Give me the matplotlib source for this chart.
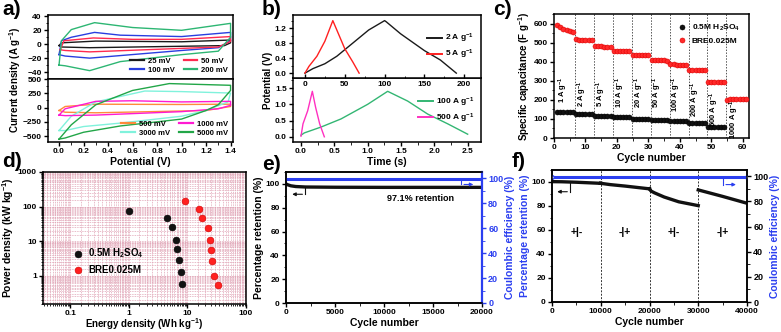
import numpy as np
import matplotlib
matplotlib.use('Agg')
import matplotlib.pyplot as plt
from matplotlib.ticker import AutoMinorLocator, MultipleLocator, LogLocator, NullFormatter

plt.rcParams['font.family'] = ['Liberation Sans', 'DejaVu Sans']
plt.rcParams['font.weight'] = 'bold'
plt.rcParams['axes.labelweight'] = 'bold'
plt.rcParams['mathtext.fontset'] = 'custom'
plt.rcParams['mathtext.rm'] = 'Liberation Sans:bold'
plt.rcParams['mathtext.it'] = 'Liberation Sans:bold'
plt.rcParams['mathtext.bf'] = 'Liberation Sans:bold'
plt.rcParams['font.size'] = 6
plt.rcParams['axes.linewidth'] = 1.1
plt.rcParams['xtick.major.size'] = 3
plt.rcParams['ytick.major.size'] = 3
plt.rcParams['xtick.minor.size'] = 1.8
plt.rcParams['ytick.minor.size'] = 1.8
plt.rcParams['xtick.major.width'] = 1
plt.rcParams['ytick.major.width'] = 1
plt.rcParams['xtick.major.pad'] = 1.5
plt.rcParams['ytick.major.pad'] = 1.5
plt.rcParams['axes.labelpad'] = 1

# ---------------- data ----------------
# a) CV loops (potential V, current density A/g), low scan rates
cv_25 = [(0, -2), (0.02, 2), (0.3, 4.5), (1.0, 3.5), (1.4, 6), (1.4, 2), (1.35, -2), (0.25, -5), (0.02, -4), (0, -2)]
cv_50 = [(0.01, -8), (0.04, 5), (0.28, 9), (0.6, 7), (1.0, 7), (1.4, 11), (1.4, 4), (1.3, -4), (0.25, -11), (0.05, -9), (0.01, -8)]
cv_100 = [(0, -15), (0.02, 5), (0.1, 10), (0.29, 17), (0.5, 13), (1.0, 11), (1.4, 17), (1.4, 5), (1.3, -5), (1.0, -9), (0.25, -20), (0.05, -17), (0, -15)]
cv_200 = [(0, -30), (0.02, 5), (0.1, 21), (0.29, 31), (0.6, 24), (1.0, 20), (1.4, 30), (1.4, 10), (1.3, -10), (1.0, -15), (0.5, -25), (0.25, -38), (0.05, -31), (0, -30)]
# a) high scan rates
cv_500 = [(0, -50), (0.05, 20), (0.3, 60), (1.0, 55), (1.4, 60), (1.4, 20), (1.2, -50), (0.3, -90), (0.05, -80), (0, -50)]
cv_1000 = [(0, -130), (0.05, -20), (0.3, 110), (0.6, 120), (1.0, 100), (1.4, 110), (1.4, 40), (1.3, -20), (1.0, -70), (0.3, -130), (0.05, -140), (0, -130)]
cv_3000 = [(0, -400), (0.1, -150), (0.3, 100), (0.7, 290), (1.0, 280), (1.4, 255), (1.38, 100), (1.2, -50), (1.0, -150), (0.5, -270), (0.2, -330), (0.05, -400), (0, -400)]
cv_5000 = [(0, -550), (0.1, -300), (0.3, 50), (0.6, 300), (0.9, 420), (1.4, 390), (1.4, 300), (1.3, 50), (1.2, -50), (1.0, -200), (0.5, -320), (0.2, -430), (0.05, -530), (0, -550)]

# b) galvanostatic charge/discharge (time s, potential V)
gcd_2 = [(0, 0), (10, 0.12), (25, 0.25), (40, 0.45), (60, 0.8), (80, 1.15), (100, 1.4), (102, 1.37), (120, 1.05), (150, 0.6), (170, 0.35), (190, 0)]
gcd_5 = [(0, 0), (5, 0.18), (15, 0.45), (25, 0.85), (35, 1.4), (40, 1.15), (50, 0.65), (60, 0.3), (68, 0)]
gcd_100 = [(0, 0.05), (0.05, 0.12), (0.3, 0.3), (0.6, 0.55), (1.0, 1.0), (1.3, 1.4), (1.35, 1.35), (1.6, 1.1), (1.9, 0.7), (2.2, 0.4), (2.5, 0.08)]
gcd_500 = [(0, 0.02), (0.03, 0.4), (0.1, 0.8), (0.17, 1.4), (0.22, 0.9), (0.28, 0.4), (0.35, 0)]

# c) rate capability
cyc_red = list(range(1, 62))
cap_red = [590, 582, 573, 565, 560, 556,
           517, 516, 515, 514, 513, 512,
           481, 480, 480, 479, 479, 478,
           455, 455, 455, 454, 454, 454,
           435, 435, 434, 434, 434, 433,
           408, 408, 407, 407, 407, 406,
           386, 386, 385, 385, 385, 384,
           356, 356, 356, 355, 355, 355,
           296, 296, 296, 295, 295, 295,
           200, 203, 205, 206, 206, 207, 207]
cyc_black = list(range(1, 55))
cap_black = [136, 135, 135, 135, 134, 134,
             127, 127, 126, 126, 126, 126,
             117, 117, 116, 116, 116, 116,
             109, 109, 108, 108, 108, 108,
             102, 102, 101, 101, 101, 101,
             96, 96, 96, 95, 95, 95,
             88, 88, 87, 87, 87, 87,
             80, 80, 79, 79, 79, 79,
             59, 59, 58, 58, 58, 58]
rate_bounds = [6.8, 12.8, 18.8, 24.8, 30.8, 36.8, 42.8, 48.8, 54.8]
rate_labels = ['1', '2', '5', '10', '20', '50', '100', '200', '500', '1000']
rate_lab_x = [3, 9, 15, 21, 27, 33, 39, 45, 51, 57.5]
rate_lab_y = [255, 235, 235, 240, 237, 240, 228, 202, 150, 97]

# d) Ragone plot
e_h2so4 = [1.0, 4.5, 5.5, 6.4, 6.7, 7.3, 7.9, 8.2]
p_h2so4 = [76, 48, 26, 11, 5.8, 2.9, 1.26, 0.56]
e_bre = [8.9, 16, 17.5, 22, 24, 25, 26, 28, 33]
p_bre = [140, 87, 45, 24.5, 10.5, 5.4, 2.6, 1.0, 0.52]

# e) cycling stability
e_cyc = [0, 200, 500, 1000, 2000, 5000, 10000, 15000, 20000]
e_ret = [100, 99.2, 98.4, 97.8, 97.4, 97.2, 97.1, 97.1, 97.1]
e_ce_cyc = [0, 20000]
e_ce = [99.3, 99.3]

# f) polarity switching
f_cyc = [0, 2000, 5000, 10000, np.nan, 10000, 12000, 15000, 20000, np.nan,
         20000, 20300, 21000, 23000, 26000, 30000, np.nan, 30000, 35000, 40000]
f_ret = [100.3, 100.2, 99.8, 98.9, np.nan, 98.9, 97.8, 96.6, 94.3, np.nan,
         94.3, 92.5, 91, 87.5, 83.5, 80.3, np.nan, 93.4, 88, 82.3]
f_ce_cyc = [0, 40000]
f_ce = [99.5, 99.5]
f_bounds = [10000, 20000, 30000]
f_modes = ['+|-', '-|+', '+|-', '-|+']
f_mode_x = [5000, 15000, 25000, 35000]

BLUE = '#2b3ff0'
LAB = 7.5

W, H = 781, 332
fig = plt.figure(figsize=(W / 100, H / 100), dpi=100)


def ax_at(l, t, r, b):
    return fig.add_axes([l / W, 1 - b / H, (r - l) / W, (b - t) / H])


def xy(pts):
    a = np.array(pts, dtype=float)
    return a[:, 0], a[:, 1]


def panel(x, y, s):
    fig.text(x / W, 1 - y / H, s, fontsize=15, fontweight='bold', va='top', ha='left')


# ---------------- a) ----------------
axa1 = ax_at(48, 15, 233, 79)
axa2 = ax_at(48, 79, 233, 142)
for pts, c, lab in [(cv_25, '#1a1a1a', '25 mV'), (cv_100, '#2a3ee0', '100 mV'),
                    (cv_50, '#ff2a50', '50 mV'), (cv_200, '#2db673', '200 mV')]:
    axa1.plot(*xy(pts), color=c, lw=1.0, label=lab)
for pts, c, lab in [(cv_500, '#ff8a3a', '500 mV'), (cv_3000, '#80f2dc', '3000 mV'),
                    (cv_1000, '#ff1ad2', '1000 mV'), (cv_5000, '#22a648', '5000 mV')]:
    axa2.plot(*xy(pts), color=c, lw=1.0, label=lab)
for ax in (axa1, axa2):
    ax.set_xlim(-0.09, 1.42)
    ax.xaxis.set_major_locator(MultipleLocator(0.2))
    ax.xaxis.set_minor_locator(MultipleLocator(0.1))
    ax.yaxis.set_minor_locator(AutoMinorLocator(2))
    leg = ax.legend(loc='lower right', ncol=2, frameon=False, fontsize=5.5, handlelength=1.8,
                    columnspacing=1.2, labelspacing=0.25, borderpad=0.15, handletextpad=0.5)
    for ln in leg.get_lines():
        ln.set_linewidth(1.6)
axa1.set_ylim(-50, 42)
axa1.set_yticks([-40, -20, 0, 20, 40])
axa1.tick_params(axis='x', labelbottom=False, length=0, which='both')
axa2.set_ylim(-600, 500)
axa2.set_yticks([-500, -250, 0, 250, 500])
axa2.set_xlabel('Potential (V)', fontsize=LAB)
fig.text(15 / W, 1 - 80 / H, 'Current density (A g$^{-1}$)', rotation=90, fontsize=7,
         fontweight='bold', va='center', ha='center')

# ---------------- b) ----------------
axb1 = ax_at(293, 15, 481, 78)
axb2 = ax_at(293, 78, 481, 142)
axb1.set_zorder(3)
axb1.plot(*xy(gcd_2), color='#1a1a1a', lw=1.0, label='2 A g$^{-1}$')
axb1.plot(*xy(gcd_5), color='#ff2020', lw=1.0, label='5 A g$^{-1}$')
axb1.set_xlim(-15, 221)
axb1.set_ylim(-0.13, 1.55)
axb1.set_xticks([0, 50, 100, 150, 200])
axb1.set_yticks([0.0, 0.4, 0.8, 1.2])
axb1.xaxis.set_minor_locator(MultipleLocator(25))
axb1.yaxis.set_minor_locator(MultipleLocator(0.2))
axb1.tick_params(axis='x', which='both', direction='in', pad=2)
axb2.plot(*xy(gcd_100), color='#33b673', lw=1.0, label='100 A g$^{-1}$')
axb2.plot(*xy(gcd_500), color='#ff30c0', lw=1.0, label='500 A g$^{-1}$')
axb2.set_xlim(-0.12, 2.7)
axb2.set_ylim(-0.16, 1.81)
axb2.set_xticks([0.0, 0.5, 1.0, 1.5, 2.0, 2.5])
axb2.set_yticks([0.0, 0.5, 1.0, 1.5])
axb2.xaxis.set_minor_locator(MultipleLocator(0.25))
axb2.yaxis.set_minor_locator(MultipleLocator(0.25))
axb2.set_xlabel('Time (s)', fontsize=LAB)
for ax in (axb1, axb2):
    leg = ax.legend(loc='center right', frameon=False, fontsize=6, handlelength=1.8,
                    labelspacing=0.3, borderpad=0.3, handletextpad=0.4)
    for ln in leg.get_lines():
        ln.set_linewidth(1.4)
fig.text(268 / W, 1 - 80 / H, 'Potential (V)', rotation=90, fontsize=7,
         fontweight='bold', va='center', ha='center')

# ---------------- c) ----------------
axc = ax_at(554, 14, 749, 138)
for bx in rate_bounds:
    axc.axvline(bx, color='#555555', lw=0.7, ls=(0, (1.5, 1.5)), zorder=1)
axc.plot(cyc_black, cap_black, 'o', ms=3.6, color='#111111', mec='#000000', mew=0.4,
         label='0.5M H$_2$SO$_4$', zorder=3)
axc.plot(cyc_red, cap_red, 'o', ms=3.6, color='#ff2a2a', mec='#e00000', mew=0.4,
         label='BRE0.025M', zorder=3)
for lab, x, y in zip(rate_labels, rate_lab_x, rate_lab_y):
    axc.text(x, y, lab + ' A g$^{-1}$', rotation=90, fontsize=5.5, ha='center', va='center')
axc.set_xlim(0, 62)
axc.set_ylim(0, 650)
axc.set_xticks([0, 10, 20, 30, 40, 50, 60])
axc.set_yticks([0, 100, 200, 300, 400, 500, 600])
axc.xaxis.set_minor_locator(MultipleLocator(5))
axc.yaxis.set_minor_locator(MultipleLocator(50))
axc.set_xlabel('Cycle number', fontsize=LAB)
axc.set_ylabel('Specific capacitance (F g$^{-1}$)', fontsize=7)
axc.legend(loc='upper right', frameon=False, fontsize=6, handletextpad=0.2,
           labelspacing=0.5, borderpad=0.6, markerscale=1.0)

# ---------------- d) ----------------
axd = ax_at(43, 172, 246, 304)
axd.set_xscale('log')
axd.set_yscale('log')
axd.set_xlim(0.034, 100)
axd.set_ylim(0.15, 1000)
axd.grid(True, which='both', color='#e0a3b5', lw=0.6, ls=(0, (1, 1)))
axd.xaxis.set_minor_locator(LogLocator(base=10, subs=np.arange(1, 10, 0.5)))
axd.yaxis.set_minor_locator(LogLocator(base=10, subs=np.arange(1, 10, 0.5)))
axd.xaxis.set_minor_formatter(NullFormatter())
axd.yaxis.set_minor_formatter(NullFormatter())
axd.set_xticks([0.1, 1, 10, 100])
axd.set_xticklabels(['0.1', '1', '10', '100'])
axd.set_yticks([1, 10, 100, 1000])
axd.set_yticklabels(['1', '10', '100', '1000'])
axd.tick_params(which='minor', length=1.5)
axd.tick_params(axis='x', pad=1)
axd.scatter(e_h2so4, p_h2so4, s=24, color='#111111', edgecolor='#000000', lw=0.4,
            label='0.5M H$_2$SO$_4$', zorder=3)
axd.scatter(e_bre, p_bre, s=24, color='#ff2020', edgecolor='#d00000', lw=0.4,
            label='BRE0.025M', zorder=3)
axd.set_xlabel('Energy density (Wh kg$^{-1}$)', fontsize=7, labelpad=0)
axd.set_ylabel('Power density (kW kg$^{-1}$)', fontsize=LAB)
axd.legend(loc='center left', bbox_to_anchor=(0.08, 0.33), frameon=False, fontsize=7,
           handletextpad=0.1, labelspacing=0.5, scatterpoints=1)

# ---------------- e) ----------------
axe = ax_at(286, 172, 482, 303)
axe2 = axe.twinx()
axe.plot(e_cyc, e_ret, color='#111111', lw=2.4, zorder=3)
axe2.plot(e_ce_cyc, e_ce, color=BLUE, lw=2.2)
axe.set_xlim(0, 20000)
axe.set_ylim(0, 110)
axe2.set_ylim(0, 105)
axe.set_xticks([0, 5000, 10000, 15000, 20000])
axe.set_yticks([0, 20, 40, 60, 80, 100])
axe2.set_yticks([0, 20, 40, 60, 80, 100])
axe.xaxis.set_minor_locator(MultipleLocator(2500))
axe.yaxis.set_minor_locator(MultipleLocator(10))
axe2.yaxis.set_minor_locator(MultipleLocator(10))
axe.set_xlabel('Cycle number', fontsize=LAB)
axe.set_ylabel('Percentage retention (%)', fontsize=7.5)
axe2.set_ylabel('Coulombic efficiency (%)', fontsize=7.5, color=BLUE)
axe2.spines['right'].set_color(BLUE)
axe2.spines['right'].set_linewidth(1.6)
axe2.tick_params(axis='y', which='both', colors=BLUE, labelsize=6.5)
axe.text(13700, 87.5, '97.1% retention', fontsize=6.5, ha='center', va='center')
axe.plot([1940, 1940], [96.9, 91.3], color='#111111', lw=0.8)
axe.annotate('', xy=(350, 91.3), xytext=(1960, 91.3),
             arrowprops=dict(arrowstyle='-|>', color='#111111', lw=0.8, mutation_scale=5))
axe2.plot([17900, 17900], [98.5, 95], color=BLUE, lw=0.8)
axe2.annotate('', xy=(19400, 95), xytext=(17880, 95),
              arrowprops=dict(arrowstyle='-|>', color=BLUE, lw=0.8, mutation_scale=5))

# ---------------- f) ----------------
axf = ax_at(552, 170, 747, 302)
axf2 = axf.twinx()
for bx in f_bounds:
    axf.axvline(bx, color='#333333', lw=0.7, ls=(0, (2, 1.5)), zorder=1)
axf.plot(f_cyc, f_ret, color='#111111', lw=2.4, zorder=3)
axf2.plot(f_ce_cyc, f_ce, color=BLUE, lw=2.2, marker='o', ms=2.5, mfc='white', mec=BLUE)
for lab, x in zip(f_modes, f_mode_x):
    axf.text(x, 58, lab, fontsize=7.5, ha='center', va='center')
axf.set_xlim(0, 40000)
axf.set_ylim(0, 110)
axf2.set_ylim(0, 105)
axf.set_xticks([0, 10000, 20000, 30000, 40000])
axf.set_yticks([0, 20, 40, 60, 80, 100])
axf2.set_yticks([0, 20, 40, 60, 80, 100])
axf.xaxis.set_minor_locator(MultipleLocator(5000))
axf.yaxis.set_minor_locator(MultipleLocator(10))
axf2.yaxis.set_minor_locator(MultipleLocator(10))
axf.set_xlabel('Cycle number', fontsize=LAB)
axf.set_ylabel('Percentage retention (%)', fontsize=7.5, color=BLUE)
axf2.set_ylabel('Coulombic efficiency (%)', fontsize=7.5, color=BLUE)
axf2.tick_params(axis='y', labelsize=6.5)
axf.plot([3690, 3690], [100.3, 91.9], color='#111111', lw=0.8)
axf.annotate('', xy=(500, 91.9), xytext=(3710, 91.9),
             arrowprops=dict(arrowstyle='-|>', color='#111111', lw=0.8, mutation_scale=5))
axf2.plot([35130, 35130], [98.7, 93.4], color=BLUE, lw=0.8)
axf2.annotate('', xy=(38300, 93.4), xytext=(35110, 93.4),
              arrowprops=dict(arrowstyle='-|>', color=BLUE, lw=0.8, mutation_scale=5))

for ax in (axa1, axa2, axb1, axb2, axc, axd, axe, axf):
    ax.tick_params(labelsize=6)

panel(2, 0, 'a)')
panel(262, 0, 'b)')
panel(493, 0, 'c)')
panel(2, 152, 'd)')
panel(262, 155, 'e)')
panel(512, 152, 'f)')

fig.savefig('out.png', dpi=100)
